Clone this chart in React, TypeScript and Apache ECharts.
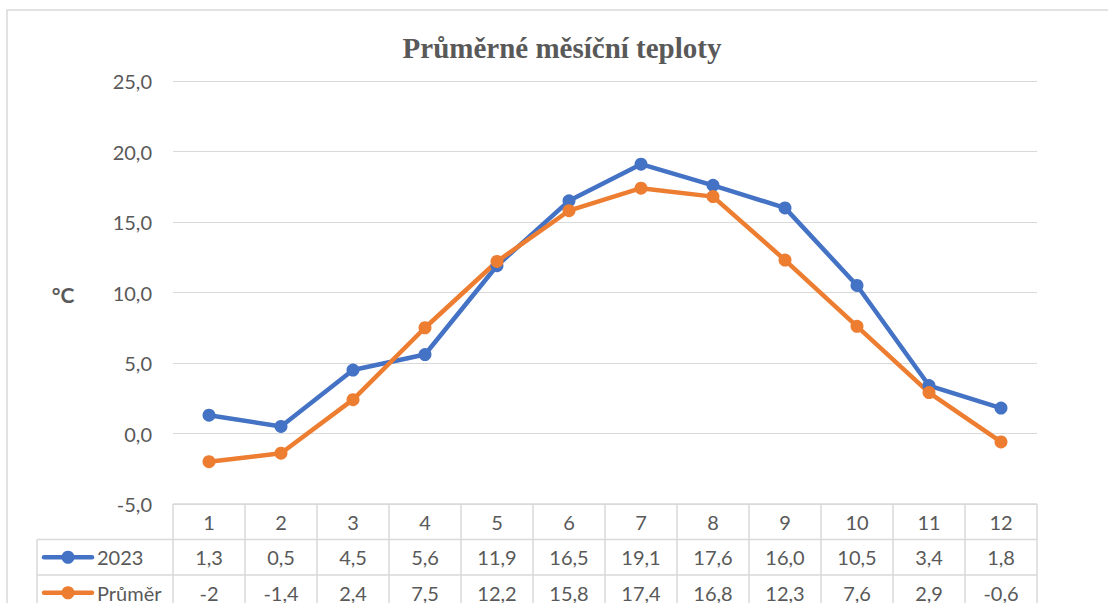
import React, { useEffect, useRef } from "react";
import * as echarts from "echarts";

const months = ["1", "2", "3", "4", "5", "6", "7", "8", "9", "10", "11", "12"];
const values2023 = [1.3, 0.5, 4.5, 5.6, 11.9, 16.5, 19.1, 17.6, 16.0, 10.5, 3.4, 1.8];
const valuesPrumer = [-2, -1.4, 2.4, 7.5, 12.2, 15.8, 17.4, 16.8, 12.3, 7.6, 2.9, -0.6];
const seriesNames = ["2023", "Průměr"];
const seriesColors = ["#4472C4", "#ED7D31"];
const titleText = "Průměrné měsíční teploty";
const unitText = "°C";

const fmt2023 = (v: number) => v.toFixed(1).replace(".", ",");
const fmtPrumer = (v: number) => String(v).replace(".", ",");

export default function App() {
  const ref = useRef<HTMLDivElement>(null);
  useEffect(() => {
    if (!ref.current) return;
    const chart = echarts.init(ref.current, null, { renderer: "svg" });
    const W = 1108;
    const H = 603;
    const plotLeft = 173;
    const plotRight = 1037;
    const plotTop = 81;
    const plotBottom = 504;
    const colW = (plotRight - plotLeft) / months.length;
    const rowH = 35.5;
    const legendLeft = 37;
    const lineColor = "#d9d9d9";
    const textColor = "#595959";
    const font = "Lato, 'Noto Sans', sans-serif";
    const fs = 20;

    const graphics: any[] = [];
    graphics.push({
      type: "rect",
      shape: { x: 7, y: 10, width: 1300, height: 800 },
      style: { fill: "none", stroke: lineColor, lineWidth: 1.5 },
      silent: true,
    });
    graphics.push({
      type: "text",
      x: 562,
      y: 48,
      style: {
        text: titleText,
        font: "bold 29px 'Liberation Serif', 'Times New Roman', serif",
        fill: textColor,
        align: "center",
        verticalAlign: "middle",
      },
    });
    graphics.push({
      type: "text",
      x: 63,
      y: 294,
      style: {
        text: unitText,
        font: "bold 21px " + font,
        fill: textColor,
        align: "center",
        verticalAlign: "middle",
      },
    });
    const hLines = [
      { y: plotBottom, x1: plotLeft },
      { y: plotBottom + rowH, x1: legendLeft },
      { y: plotBottom + 2 * rowH, x1: legendLeft },
      { y: plotBottom + 3 * rowH, x1: legendLeft },
    ];
    hLines.forEach((l) =>
      graphics.push({
        type: "line",
        shape: { x1: l.x1, y1: l.y, x2: plotRight, y2: l.y },
        style: { stroke: lineColor, lineWidth: 1.5 },
        silent: true,
      })
    );
    graphics.push({
      type: "line",
      shape: { x1: legendLeft, y1: plotBottom + rowH, x2: legendLeft, y2: H + 10 },
      style: { stroke: lineColor, lineWidth: 1.5 },
      silent: true,
    });
    for (let i = 0; i <= months.length; i++) {
      const x = plotLeft + i * colW;
      graphics.push({
        type: "line",
        shape: { x1: x, y1: plotBottom, x2: x, y2: H + 10 },
        style: { stroke: lineColor, lineWidth: 1.5 },
        silent: true,
      });
    }
    const cellText = (text: string, x: number, y: number, align = "center") => ({
      type: "text",
      x,
      y,
      style: {
        text,
        font: fs + "px " + font,
        fill: textColor,
        align,
        verticalAlign: "middle",
      },
    });
    const rows = [months, values2023.map(fmt2023), valuesPrumer.map(fmtPrumer)];
    rows.forEach((r, ri) => {
      const cy = plotBottom + rowH * ri + rowH / 2;
      r.forEach((t, ci) => {
        graphics.push(cellText(t, plotLeft + colW * ci + colW / 2, cy));
      });
    });
    seriesNames.forEach((name, si) => {
      const cy = plotBottom + rowH * (si + 1) + rowH / 2;
      graphics.push({
        type: "line",
        shape: { x1: 44, y1: cy, x2: 92, y2: cy },
        style: { stroke: seriesColors[si], lineWidth: 4.5, lineCap: "round" },
      });
      graphics.push({
        type: "circle",
        shape: { cx: 68, cy, r: 6.5 },
        style: { fill: seriesColors[si] },
      });
      graphics.push(cellText(name, 97, cy, "left"));
    });

    chart.setOption({
      animation: false,
      textStyle: { fontFamily: font },
      grid: {
        left: plotLeft,
        right: W - plotRight,
        top: plotTop,
        bottom: H - plotBottom,
        containLabel: false,
      },
      xAxis: {
        type: "category",
        data: months,
        boundaryGap: true,
        axisLine: { show: false },
        axisTick: { show: false },
        axisLabel: { show: false },
      },
      yAxis: {
        type: "value",
        min: -5,
        max: 25,
        interval: 5,
        axisLine: { show: false },
        axisTick: { show: false },
        axisLabel: {
          color: textColor,
          fontSize: fs,
          fontFamily: font,
          margin: 21,
          formatter: (v: number) => v.toFixed(1).replace(".", ","),
        },
        splitLine: { lineStyle: { color: lineColor, width: 1.2 } },
      },
      series: [
        {
          name: seriesNames[0],
          type: "line",
          data: values2023,
          symbol: "circle",
          symbolSize: 13,
          itemStyle: { color: seriesColors[0] },
          lineStyle: { color: seriesColors[0], width: 4.5 },
        },
        {
          name: seriesNames[1],
          type: "line",
          data: valuesPrumer,
          symbol: "circle",
          symbolSize: 13,
          itemStyle: { color: seriesColors[1] },
          lineStyle: { color: seriesColors[1], width: 4.5 },
        },
      ],
      graphic: graphics,
    });
    return () => chart.dispose();
  }, []);
  return (
    <div
      ref={ref}
      style={{ position: "fixed", left: 0, top: 0, width: 1108, height: 603, background: "#fff" }}
    />
  );
}
